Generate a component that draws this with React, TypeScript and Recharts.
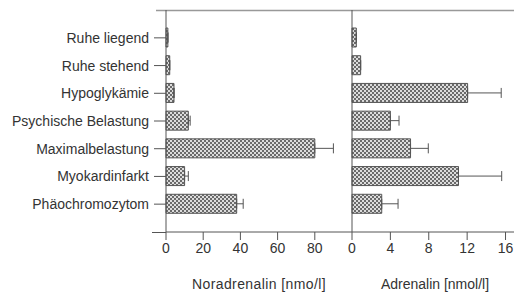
import React from "react";
import { BarChart, Bar, XAxis, YAxis, ErrorBar } from "recharts";

const categories = [
  "Ruhe liegend",
  "Ruhe stehend",
  "Hypoglykämie",
  "Psychische Belastung",
  "Maximalbelastung",
  "Myokardinfarkt",
  "Phäochromozytom",
];
const noradrenalin = [1, 2, 4.3, 12, 80, 10, 38];
const noradrenalinErr = [0, 0, 0, 1, 10, 2, 3.5];
const adrenalin = [0.45, 0.9, 12.05, 4.0, 6.1, 11.1, 3.1];
const adrenalinErr = [0, 0, 3.5, 0.9, 1.85, 4.5, 1.7];
const norTicks = [0, 20, 40, 60, 80];
const adrTicks = [0, 4, 8, 12, 16];

const norData = categories.map((c, i) => ({ cat: c, v: noradrenalin[i], e: [0, noradrenalinErr[i]] }));
const adrData = categories.map((c, i) => ({ cat: c, v: adrenalin[i], e: [0, adrenalinErr[i]] }));

const FONT = "'Liberation Sans', Arial, sans-serif";
const TEXT = "#333";
const AXIS = "#555";

export default function App() {
  const tickStyle = { fontSize: 14, fill: TEXT, fontFamily: FONT };
  return (
    <div style={{ position: "relative", margin: "-8px 0 0 -8px", width: 522, height: 293, background: "#fff", fontFamily: FONT }}>
      <svg width={522} height={293} style={{ position: "absolute", left: 0, top: 0 }}>
        <defs>
          <pattern id="checker" width={4} height={4} patternUnits="userSpaceOnUse">
            <rect x={0} y={0} width={4} height={4} fill="#dcdcdc" />
            <rect x={0} y={0} width={2} height={2} fill="#6a6a6a" />
            <rect x={2} y={2} width={2} height={2} fill="#6a6a6a" />
          </pattern>
        </defs>
        <line x1={156} y1={10.5} x2={522} y2={10.5} stroke="#999" strokeWidth={1.5} />
        <line x1={152} y1={232.5} x2={166} y2={232.5} stroke={AXIS} strokeWidth={1} />
      </svg>
      <div style={{ position: "absolute", left: 0, top: 0 }}>
        <BarChart width={352} height={293} data={norData} layout="vertical" margin={{ top: 10, right: 0, bottom: 0, left: 0 }}>
          <XAxis
            type="number"
            dataKey="v"
            domain={[0, 100]}
            ticks={norTicks}
            interval={0}
            height={61}
            tickSize={8}
            tickMargin={3}
            stroke={AXIS}
            tick={tickStyle}
            label={{ value: "Noradrenalin [nmo/l]", position: "insideBottom", offset: 4, style: { fontSize: 14, fill: TEXT, fontFamily: FONT, letterSpacing: 0.4 } }}
          />
          <YAxis
            type="category"
            dataKey="cat"
            width={166}
            tickSize={12}
            tickMargin={5}
            stroke={AXIS}
            tick={tickStyle}
            interval={0}
            padding={{ top: 14, bottom: 14 }}
          />
          <Bar dataKey="v" fill="url(#checker)" stroke="#555" strokeWidth={1} barSize={19} isAnimationActive={false}>
            <ErrorBar dataKey="e" direction="x" width={5} stroke="#555" strokeWidth={1} />
          </Bar>
        </BarChart>
      </div>
      <div style={{ position: "absolute", left: 332, top: 0 }}>
        <BarChart width={190} height={293} data={adrData} layout="vertical" margin={{ top: 10, right: 4, bottom: 0, left: 0 }}>
          <XAxis
            type="number"
            dataKey="v"
            domain={[0, 17.3]}
            ticks={adrTicks}
            interval={0}
            height={61}
            tickSize={8}
            tickMargin={3}
            stroke={AXIS}
            tick={tickStyle}
            label={{ value: "Adrenalin [nmol/l]", position: "insideBottom", offset: 4, style: { fontSize: 14, fill: TEXT, fontFamily: FONT } }}
          />
          <YAxis
            type="category"
            dataKey="cat"
            width={20}
            tick={false}
            tickLine={false}
            stroke={AXIS}
            interval={0}
            padding={{ top: 14, bottom: 14 }}
          />
          <Bar dataKey="v" fill="url(#checker)" stroke="#555" strokeWidth={1} barSize={19} isAnimationActive={false}>
            <ErrorBar dataKey="e" direction="x" width={5} stroke="#555" strokeWidth={1} />
          </Bar>
        </BarChart>
      </div>
    </div>
  );
}
